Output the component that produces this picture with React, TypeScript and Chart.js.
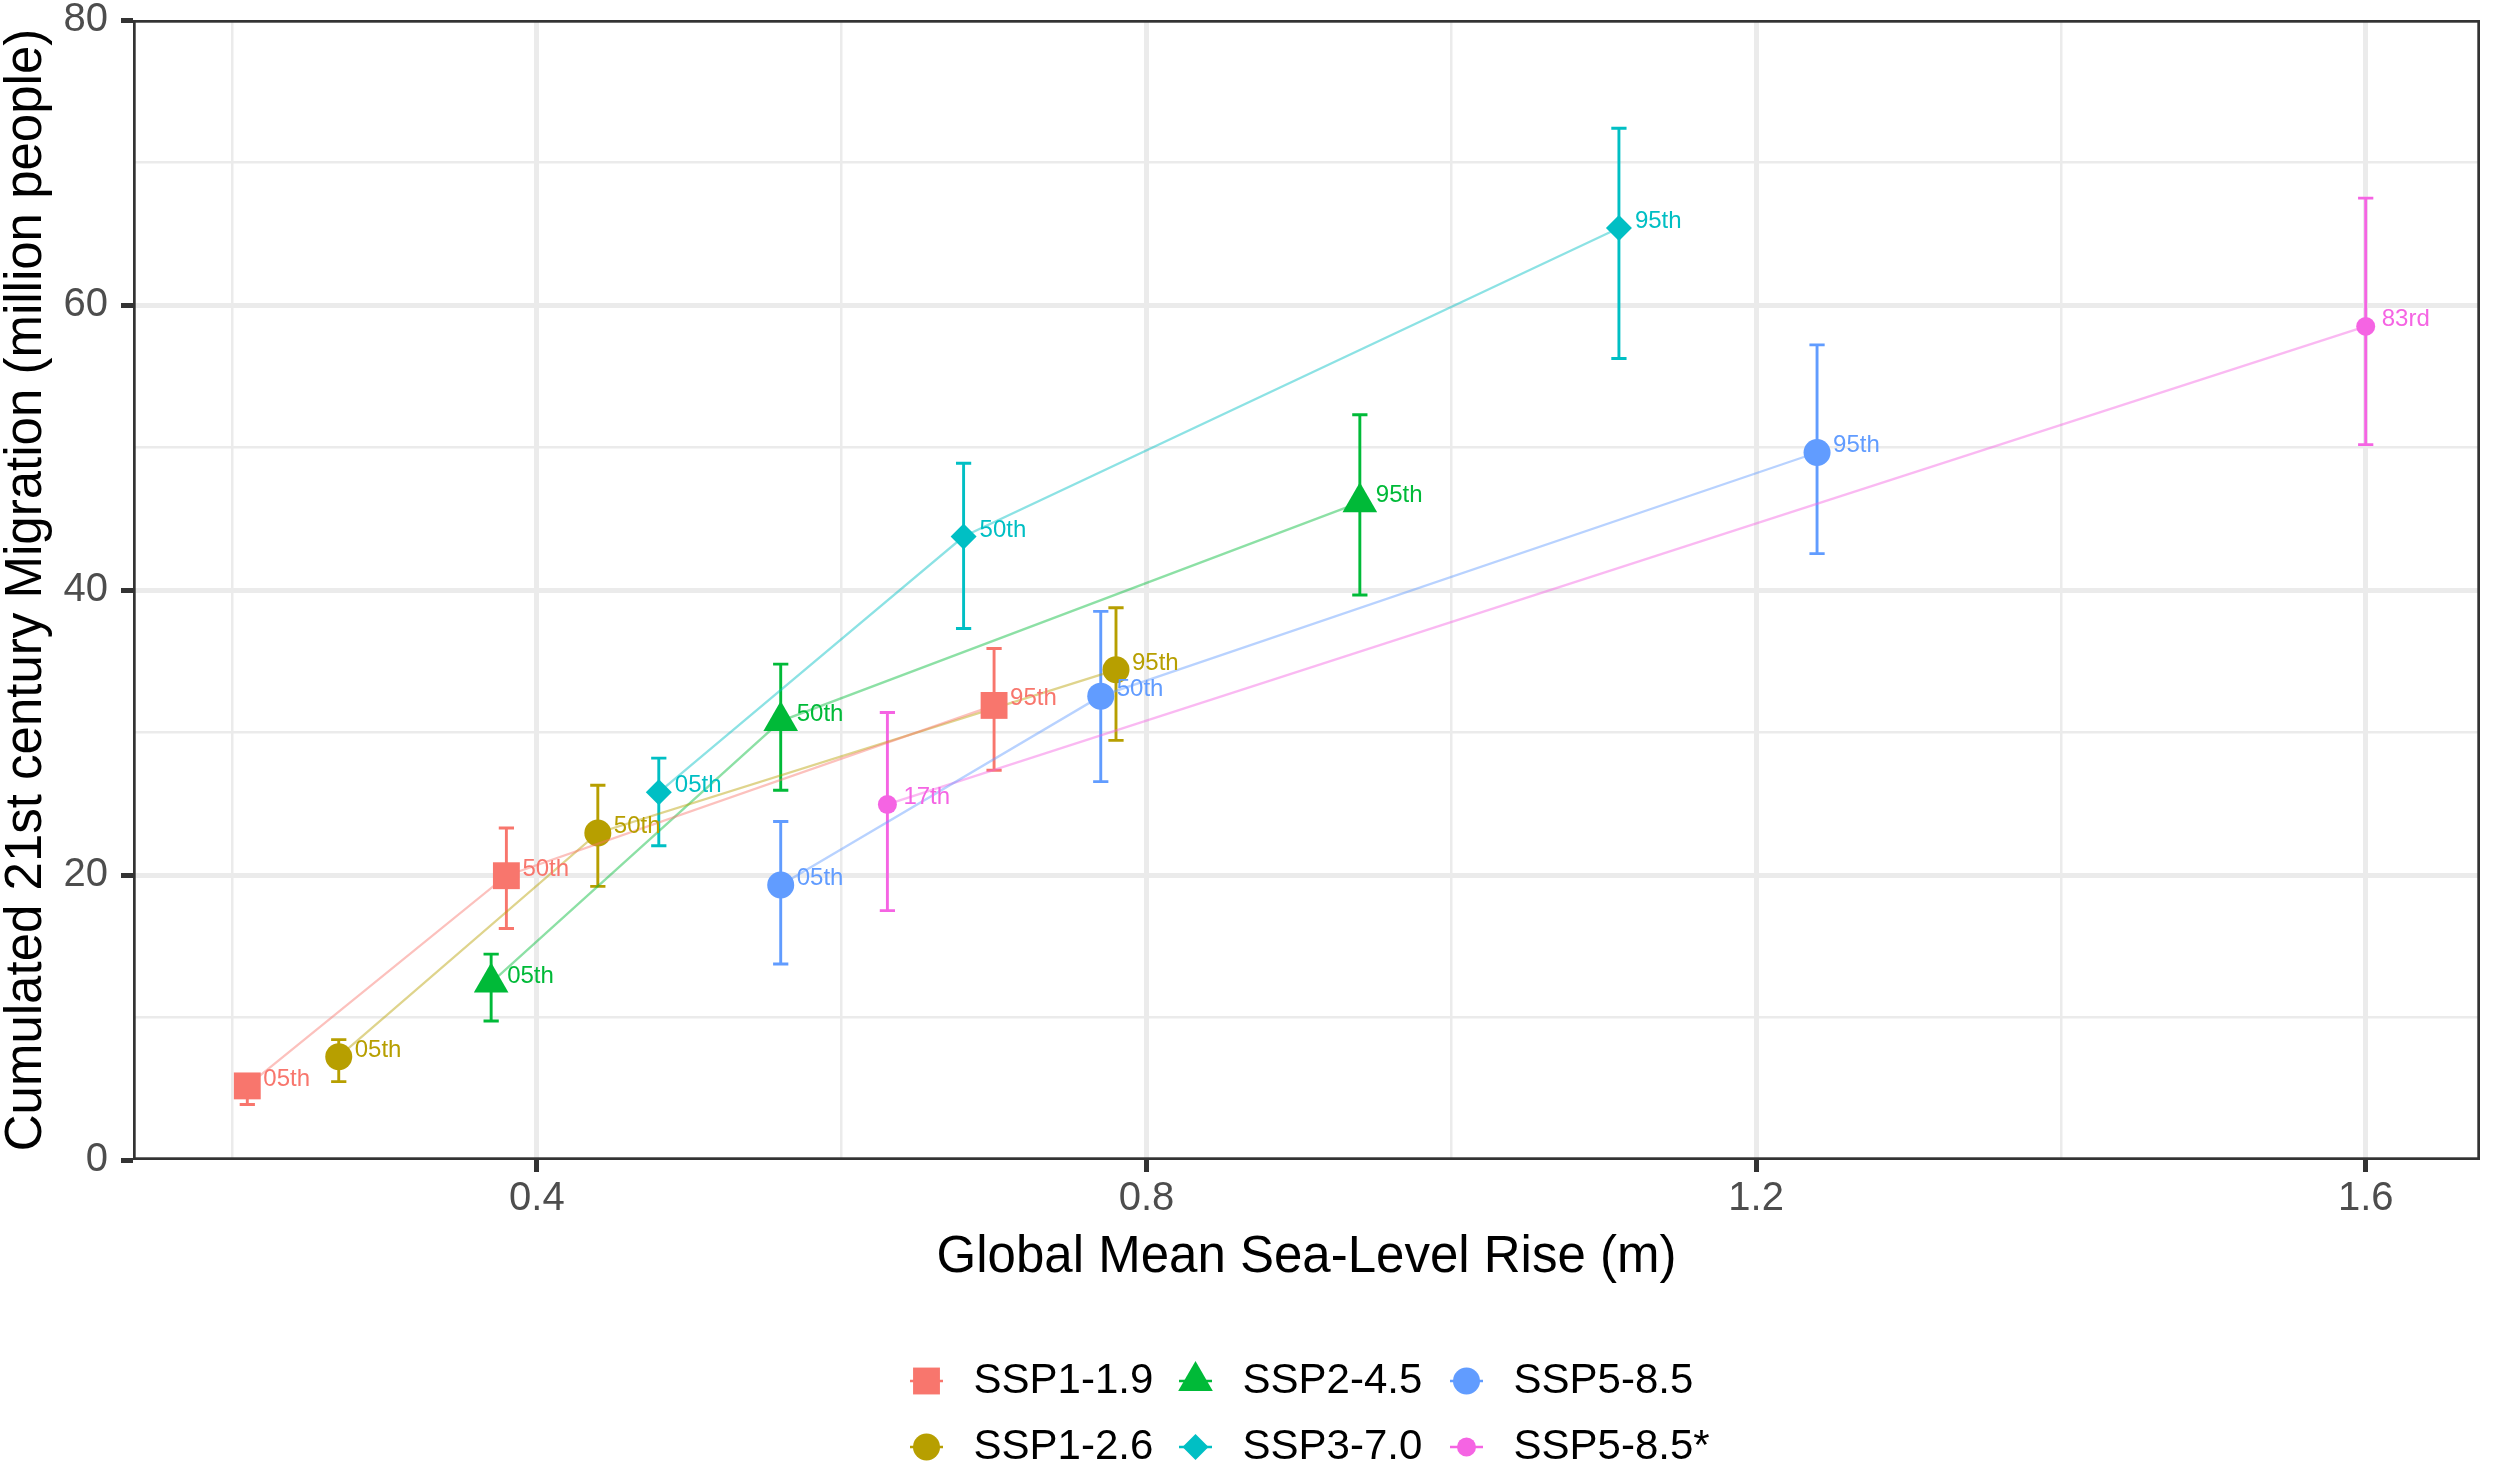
import React, { useEffect, useRef } from "react";
import { Chart, registerables } from "chart.js";
import { drawPoint } from "chart.js/helpers";

Chart.register(...registerables);

const FONT = "'Liberation Sans', Arial, Helvetica, sans-serif";

const scenarios = ["SSP1-1.9", "SSP1-2.6", "SSP2-4.5", "SSP3-7.0", "SSP5-8.5", "SSP5-8.5*"];
const colors = ["#F8766D", "#B79F00", "#00BA38", "#00BFC4", "#619CFF", "#F564E3"];
const lineColors = [
  "rgba(248,118,109,0.45)",
  "rgba(183,159,0,0.45)",
  "rgba(0,186,56,0.45)",
  "rgba(0,191,196,0.45)",
  "rgba(97,156,255,0.45)",
  "rgba(245,100,227,0.45)",
];
const markerStyles = ["rect", "circle", "triangle", "rectRot", "circle", "circle"];
const markerRadius = [19, 13.5, 20, 13, 13.5, 9.5];

// global mean sea-level rise (m), migration (million people), 5-95% ranges
const ssp119Rise = [0.21, 0.38, 0.7];
const ssp119Mig = [5.2, 19.95, 31.9];
const ssp119Lo = [3.9, 16.25, 27.35];
const ssp119Hi = [6.0, 23.3, 35.9];

const ssp126Rise = [0.27, 0.44, 0.78];
const ssp126Mig = [7.25, 22.95, 34.4];
const ssp126Lo = [5.5, 19.2, 29.45];
const ssp126Hi = [8.45, 26.3, 38.75];

const ssp245Rise = [0.37, 0.56, 0.94];
const ssp245Mig = [12.45, 30.8, 46.15];
const ssp245Lo = [9.75, 25.95, 39.65];
const ssp245Hi = [14.45, 34.8, 52.3];

const ssp370Rise = [0.48, 0.68, 1.11];
const ssp370Mig = [25.8, 43.75, 65.4];
const ssp370Lo = [22.05, 37.3, 56.25];
const ssp370Hi = [28.2, 48.9, 72.4];

const ssp585Rise = [0.56, 0.77, 1.24];
const ssp585Mig = [19.3, 32.55, 49.65];
const ssp585Lo = [13.75, 26.55, 42.55];
const ssp585Hi = [23.75, 38.5, 57.2];

const ssp585sRise = [0.63, 1.6];
const ssp585sMig = [24.95, 58.5];
const ssp585sLo = [17.5, 50.2];
const ssp585sHi = [31.4, 67.5];

const pctLabels = ["05th", "50th", "95th"];
const ssp585sLabels = ["17th", "83rd"];

const xTicks = [0.2, 0.4, 0.6, 0.8, 1.0, 1.2, 1.4, 1.6];
const xLabelTicks = [0.4, 0.8, 1.2, 1.6];
const yTicks = [0, 10, 20, 30, 40, 50, 60, 70, 80];
const yLabelTicks = [0, 20, 40, 60, 80];

const series = [
  { rise: ssp119Rise, mig: ssp119Mig, lo: ssp119Lo, hi: ssp119Hi, pct: pctLabels },
  { rise: ssp126Rise, mig: ssp126Mig, lo: ssp126Lo, hi: ssp126Hi, pct: pctLabels },
  { rise: ssp245Rise, mig: ssp245Mig, lo: ssp245Lo, hi: ssp245Hi, pct: pctLabels },
  { rise: ssp370Rise, mig: ssp370Mig, lo: ssp370Lo, hi: ssp370Hi, pct: pctLabels },
  { rise: ssp585Rise, mig: ssp585Mig, lo: ssp585Lo, hi: ssp585Hi, pct: pctLabels },
  { rise: ssp585sRise, mig: ssp585sMig, lo: ssp585sLo, hi: ssp585sHi, pct: ssp585sLabels },
];

const CAP_WIDTH = 0.01; // error bar cap, in data units
const has = (list: number[], v: number) => list.some((t) => Math.abs(t - v) < 1e-6);

// error bars under the points
const errorBars = {
  id: "errorBars",
  beforeDatasetsDraw(chart: any) {
    const { ctx } = chart;
    const x = chart.scales.x;
    const y = chart.scales.y;
    ctx.save();
    ctx.lineWidth = 2.9;
    series.forEach((s, i) => {
      ctx.strokeStyle = colors[i];
      s.rise.forEach((r, j) => {
        const px = x.getPixelForValue(r);
        const half = x.getPixelForValue(r + CAP_WIDTH / 2) - px;
        const top = y.getPixelForValue(s.hi[j]);
        const bot = y.getPixelForValue(s.lo[j]);
        ctx.beginPath();
        ctx.moveTo(px, top);
        ctx.lineTo(px, bot);
        ctx.moveTo(px - half, top);
        ctx.lineTo(px + half, top);
        ctx.moveTo(px - half, bot);
        ctx.lineTo(px + half, bot);
        ctx.stroke();
      });
    });
    ctx.restore();
  },
};

// percentile labels, panel border
const pointLabels = {
  id: "pointLabels",
  afterDatasetsDraw(chart: any) {
    const { ctx, chartArea } = chart;
    const x = chart.scales.x;
    const y = chart.scales.y;
    ctx.save();
    ctx.font = `24px ${FONT}`;
    ctx.textAlign = "left";
    ctx.textBaseline = "alphabetic";
    series.forEach((s, i) => {
      ctx.fillStyle = colors[i];
      s.rise.forEach((r, j) => {
        ctx.fillText(s.pct[j], x.getPixelForValue(r) + 16, y.getPixelForValue(s.mig[j]));
      });
    });
    ctx.strokeStyle = "#333333";
    ctx.lineWidth = 2.7;
    ctx.strokeRect(
      chartArea.left + 1.35,
      chartArea.top + 1.35,
      chartArea.right - chartArea.left - 2.7,
      chartArea.bottom - chartArea.top - 2.7
    );
    ctx.restore();
  },
};

// axis titles and the two-row legend
const titlesAndLegend = {
  id: "titlesAndLegend",
  afterDraw(chart: any) {
    const { ctx, chartArea } = chart;
    const cx = (chartArea.left + chartArea.right) / 2;
    const cy = (chartArea.top + chartArea.bottom) / 2;
    ctx.save();
    ctx.fillStyle = "#000000";
    ctx.font = `51px ${FONT}`;
    ctx.textAlign = "center";
    ctx.textBaseline = "alphabetic";
    ctx.fillText("Global Mean Sea-Level Rise (m)", cx, chartArea.bottom + 112);

    ctx.save();
    ctx.translate(41, cy);
    ctx.rotate(-Math.PI / 2);
    ctx.fillText("Cumulated 21st century Migration (million people)", 0, 0);
    ctx.restore();

    const colOffsets = [-380, -111, 160];
    const rowOffsets = [221, 287];
    ctx.font = `42px ${FONT}`;
    ctx.textAlign = "left";
    ctx.textBaseline = "middle";
    scenarios.forEach((name, k) => {
      const col = Math.floor(k / 2);
      const row = k % 2;
      const kx = cx + colOffsets[col];
      const ky = chartArea.bottom + rowOffsets[row];
      ctx.strokeStyle = colors[k];
      ctx.lineWidth = 2.6;
      ctx.beginPath();
      ctx.moveTo(kx - 16.5, ky);
      ctx.lineTo(kx + 16.5, ky);
      ctx.stroke();
      ctx.fillStyle = colors[k];
      drawPoint(
        ctx,
        { pointStyle: markerStyles[k], rotation: 0, radius: markerRadius[k], borderWidth: 0 } as any,
        kx,
        ky
      );
      ctx.fillStyle = "#000000";
      ctx.fillText(name, kx + 47, ky);
    });
    ctx.restore();
  },
};

export default function App() {
  const canvasRef = useRef<HTMLCanvasElement>(null);

  useEffect(() => {
    if (!canvasRef.current) return;
    const chart = new Chart(canvasRef.current, {
      type: "scatter",
      data: {
        datasets: series.map((s, i) => ({
          label: scenarios[i],
          data: s.rise.map((r, j) => ({ x: r, y: s.mig[j] })),
          showLine: true,
          borderColor: lineColors[i],
          borderWidth: 2.3,
          pointStyle: markerStyles[i] as any,
          pointRadius: markerRadius[i],
          pointBackgroundColor: colors[i],
          pointBorderColor: colors[i],
          pointBorderWidth: 0,
          pointHoverRadius: markerRadius[i],
        })),
      },
      options: {
        animation: false,
        responsive: true,
        maintainAspectRatio: false,
        events: [],
        layout: { padding: { top: 16, right: 2, left: 0, bottom: 0 } },
        plugins: {
          legend: { display: false },
          tooltip: { enabled: false },
        },
        scales: {
          x: {
            type: "linear",
            min: 0.135,
            max: 1.675,
            afterBuildTicks: (scale: any) => {
              scale.ticks = xTicks.map((v) => ({ value: v }));
            },
            afterFit: (scale: any) => {
              scale.height = 303;
              scale.paddingLeft = 0;
              scale.paddingRight = 0;
            },
            border: { display: false },
            grid: {
              color: "#EBEBEB",
              lineWidth: (c: any) => (has(xLabelTicks, c.tick.value) ? 5 : 2.5),
              drawTicks: true,
              tickLength: 12,
              tickWidth: 5,
              tickColor: (c: any) => (has(xLabelTicks, c.tick.value) ? "#333333" : "rgba(0,0,0,0)"),
            },
            ticks: {
              autoSkip: false,
              maxRotation: 0,
              padding: 3,
              color: "#4D4D4D",
              font: { family: FONT, size: 40 },
              callback: (v: any) => (has(xLabelTicks, Number(v)) ? Number(v).toFixed(1) : ""),
            },
          },
          y: {
            type: "linear",
            min: 0,
            max: 80,
            afterBuildTicks: (scale: any) => {
              scale.ticks = yTicks.map((v) => ({ value: v }));
            },
            afterFit: (scale: any) => {
              scale.width = 133;
              scale.paddingTop = 0;
              scale.paddingBottom = 0;
            },
            border: { display: false },
            grid: {
              color: (c: any) =>
                c.tick.value === 0 || c.tick.value === 80 ? "rgba(0,0,0,0)" : "#EBEBEB",
              lineWidth: (c: any) => (has(yLabelTicks, c.tick.value) ? 5 : 2.5),
              drawTicks: true,
              tickLength: 12,
              tickWidth: 5,
              tickColor: (c: any) => (has(yLabelTicks, c.tick.value) ? "#333333" : "rgba(0,0,0,0)"),
            },
            ticks: {
              autoSkip: false,
              padding: 13,
              color: "#4D4D4D",
              font: { family: FONT, size: 40 },
              callback: (v: any) => (has(yLabelTicks, Number(v)) ? String(v) : ""),
            },
          },
        },
      },
      plugins: [errorBars, pointLabels, titlesAndLegend],
    });
    return () => {
      chart.destroy();
    };
  }, []);

  return (
    <div style={{ position: "absolute", left: 0, top: 0, width: 2500, height: 1463, background: "#ffffff" }}>
      <canvas ref={canvasRef} />
    </div>
  );
}
